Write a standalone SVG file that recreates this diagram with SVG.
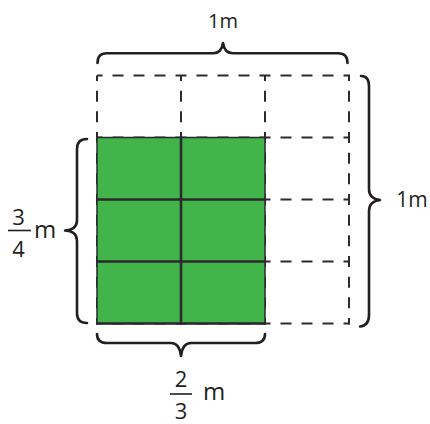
<svg xmlns="http://www.w3.org/2000/svg" width="430" height="424" viewBox="0 0 430 424">
<style>
.dh{fill:none;stroke:#2b2a2e;stroke-width:2;stroke-dasharray:11 10;stroke-dashoffset:5.5}
.dv{fill:none;stroke:#2b2a2e;stroke-width:2;stroke-dasharray:11 9.667;stroke-dashoffset:5.5}
.solid{fill:none;stroke:#2b2a2e;stroke-width:2.6}
.brace{fill:none;stroke:#231f20;stroke-width:2.6;stroke-linecap:round;stroke-linejoin:round}
.t{font-family:"Open Sans","Noto Sans",sans-serif;fill:#231f20}
.bar{stroke:#231f20;stroke-width:1.6}
</style>
<rect width="430" height="424" fill="#ffffff"/>
<g id="grid-dashed">
<line class="dh" x1="97" y1="75.5" x2="350" y2="75.5"/>
<line class="dh" x1="97" y1="137.5" x2="350" y2="137.5"/>
<line class="dh" x1="97" y1="199.5" x2="350" y2="199.5"/>
<line class="dh" x1="97" y1="261.5" x2="350" y2="261.5"/>
<line class="dh" x1="97" y1="323.5" x2="350" y2="323.5"/>
<line class="dv" x1="97" y1="75.5" x2="97" y2="324.5"/>
<line class="dv" x1="181" y1="75.5" x2="181" y2="324.5"/>
<line class="dv" x1="265" y1="75.5" x2="265" y2="324.5"/>
<line class="dv" x1="349" y1="75.5" x2="349" y2="324.5"/>
</g>
<g id="shaded">
<rect x="97" y="137.5" width="168" height="186" fill="#42b54a" stroke="#2b2a2e" stroke-width="1.5"/>
<line class="solid" x1="97" y1="199.5" x2="265" y2="199.5"/>
<line class="solid" x1="97" y1="261.5" x2="265" y2="261.5"/>
<line class="solid" x1="181" y1="137.5" x2="181" y2="323.5"/>
<line class="solid" x1="96" y1="323.5" x2="266" y2="323.5"/>
</g>
<g id="braces">
<path class="brace" d="M97.5,63 C97.5,56.5 100.5,53.3 107,53.3 L213,53.3 C219,53.3 222,50 223,43 C224,50 227,53.3 233,53.3 L338,53.3 C344.5,53.3 347.5,56.5 347.5,63"/>
<path class="brace" d="M361,76 C366,76 369,79 369,86 L369,189 C369,195 372,199 380,200 C372,201 369,205 369,211 L369,315 C369,322 366,326 360,326.5"/>
<path class="brace" d="M87,139 C80.5,139 77,142 77,149 L77,220 C77,226 74,230 65,230.5 C74,231 77,235 77,241 L77,313 C77,320 80.5,323 87,323"/>
<path class="brace" d="M97,334 C97,340 100,343 107,343 L171,343 C177,343 180,347 181,356 C182,347 185,343 191,343 L255,343 C262,343 265,340 265,334"/>
</g>
<g id="labels">
<text class="t" x="223" y="27.5" font-size="20" text-anchor="middle">1m</text>
<text class="t" x="412" y="207" font-size="21" text-anchor="middle">1m</text>
<text class="t" x="18.5" y="224.5" font-size="22" text-anchor="middle">3</text>
<line class="bar" x1="8" y1="230.5" x2="31" y2="230.5"/>
<text class="t" x="18.5" y="256.5" font-size="22" text-anchor="middle">4</text>
<text class="t" x="45" y="238" font-size="24" text-anchor="middle">m</text>
<text class="t" x="181" y="386.5" font-size="22" text-anchor="middle">2</text>
<line class="bar" x1="170" y1="394" x2="192" y2="394"/>
<text class="t" x="181" y="418.5" font-size="22" text-anchor="middle">3</text>
<text class="t" x="214" y="400" font-size="24" text-anchor="middle">m</text>
</g>
</svg>
